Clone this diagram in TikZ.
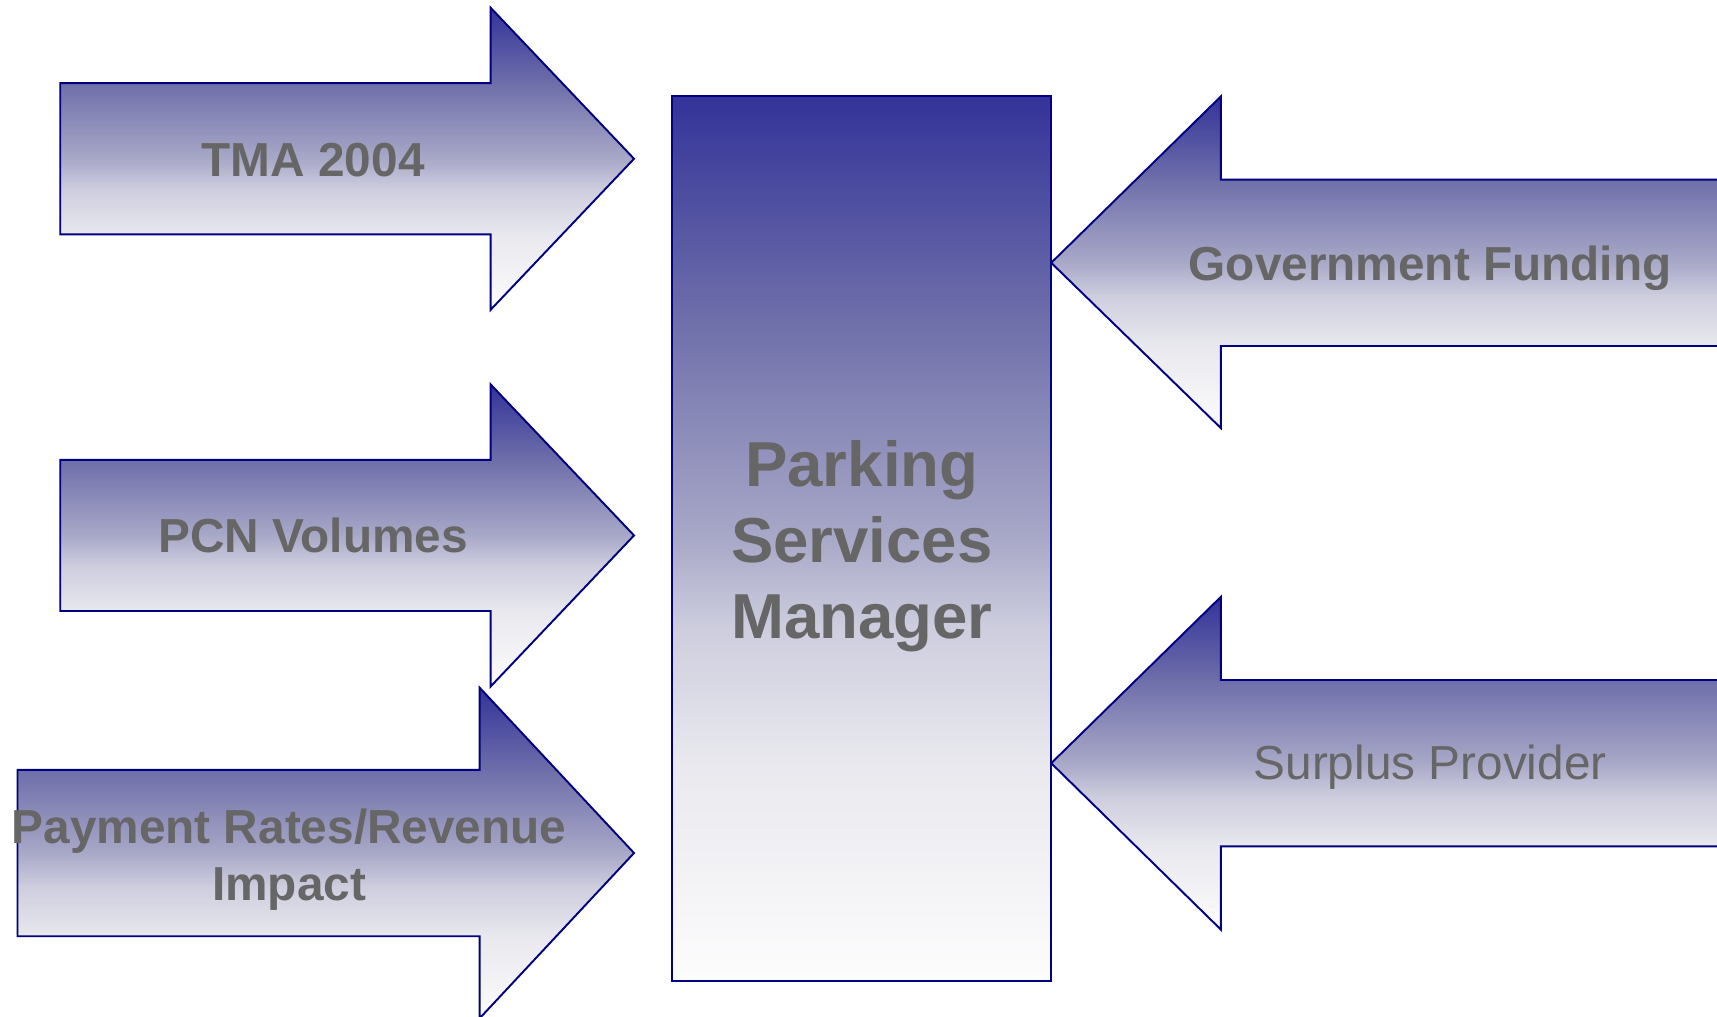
\documentclass[tikz,border=0pt]{standalone}
\usepackage{fontspec}
\setmainfont{Liberation Sans}
\definecolor{edgenavy}{RGB}{0,0,128}
\definecolor{labelgray}{RGB}{102,102,102}
% blue at the top, fading to white towards the bottom
\pgfdeclareverticalshading{flowfade}{100bp}{%
  rgb(0bp)=(0.99,0.99,0.992); rgb(25bp)=(0.99,0.99,0.992);
  rgb(37.5bp)=(0.91,0.91,0.933); rgb(45bp)=(0.804,0.804,0.871);
  rgb(50bp)=(0.659,0.659,0.784); rgb(62.5bp)=(0.431,0.431,0.667);
  rgb(75bp)=(0.2,0.2,0.6); rgb(100bp)=(0.2,0.2,0.6)}

\begin{document}
\begin{tikzpicture}[x=0.01cm, y=-0.01cm,
   flow/.style={draw=edgenavy, line width=0.5pt, line join=miter,
                shade, shading=flowfade},
   every node/.style={text=labelgray, align=center,
                font=\fontsize{12.4}{15}\selectfont\bfseries},
   title/.style={font=\fontsize{16.5}{19.8}\selectfont\bfseries}]

\useasboundingbox (0,0) rectangle (1568,928);
\clip (0,0) rectangle (1568,928);

% the manager in the middle
\draw[flow] (614,88) rectangle (960,896);
\node[title] (psm) at (787,499) {Parking\\Services\\Manager};

% pressures from the left
\draw[flow] (55,76) -- (448,76) -- (448,7) -- (579,145) -- (448,283)
   -- (448,214) -- (55,214) -- cycle;
\node[anchor=base] (tma) at (286,161) {TMA 2004};

\draw[flow] (55,420) -- (448,420) -- (448,351) -- (579,489) -- (448,627)
   -- (448,558) -- (55,558) -- cycle;
\node[anchor=base] (pcn) at (286,505) {PCN Volumes};

\draw[flow] (16,703) -- (438,703) -- (438,628) -- (579,779) -- (438,930)
   -- (438,855) -- (16,855) -- cycle;
\node (pay) at (264,785) {Payment Rates/Revenue\\Impact};

% sources from the right
\draw[flow] (1600,164) -- (1115,164) -- (1115,88) -- (960,240) -- (1115,391)
   -- (1115,316) -- (1600,316) -- cycle;
\node[anchor=base] (gov) at (1306,256) {Government Funding};

\draw[flow] (1600,621) -- (1115,621) -- (1115,545) -- (960,697) -- (1115,849)
   -- (1115,773) -- (1600,773) -- cycle;
\node[anchor=base, font=\fontsize{12.4}{15}\selectfont] (sur) at (1306,712) {Surplus Provider};

\end{tikzpicture}
\end{document}
